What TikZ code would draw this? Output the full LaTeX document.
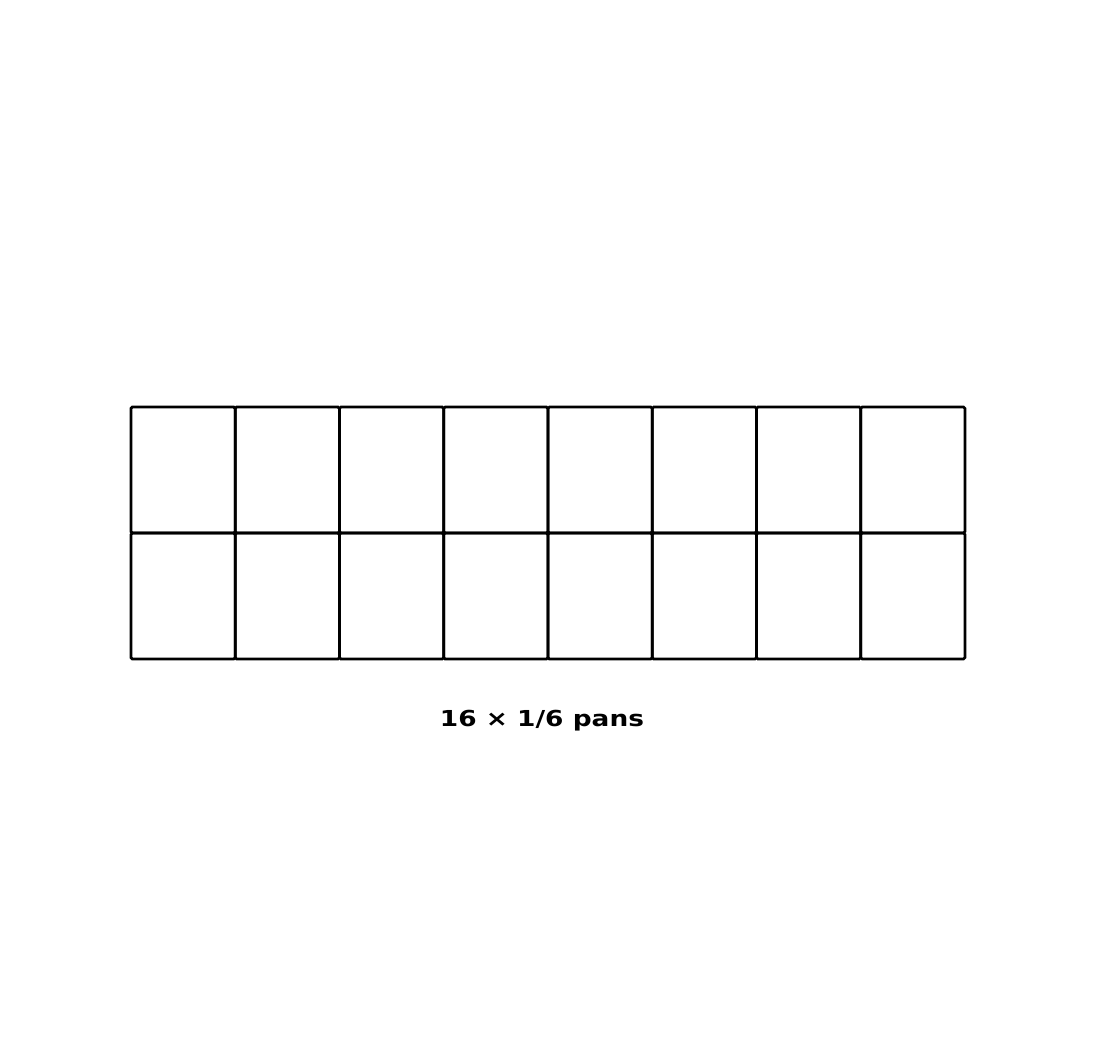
\documentclass[tikz,border=0pt]{standalone}
\usepackage{fontspec}
\setmainfont{DejaVu Sans}
\newfontfamily\capfont[FakeStretch=1.2]{DejaVu Sans Bold}
\usepackage{tikz}
\usetikzlibrary{positioning}

\begin{document}
\begin{tikzpicture}[x=1pt, y=-1pt,
  pan/.style={draw, line width=2.8pt, rounded corners=1.5pt, inner sep=0pt,
    minimum width=104.25pt, minimum height=126pt},
  every node/.style={font=\capfont\fontsize{22}{25}\selectfont}]
  \useasboundingbox (0,0) rectangle (1095,1043);
  % two rows of eight 1/6 pans
  \foreach \r in {0,1}
    \foreach \c in {0,...,7}
      \node[pan] (pan-\r-\c) at ({183.1+104.25*\c}, {470+126*\r}) {};
  \node (caption) at (542,721) {16 × 1/6 pans};
\end{tikzpicture}
\end{document}
